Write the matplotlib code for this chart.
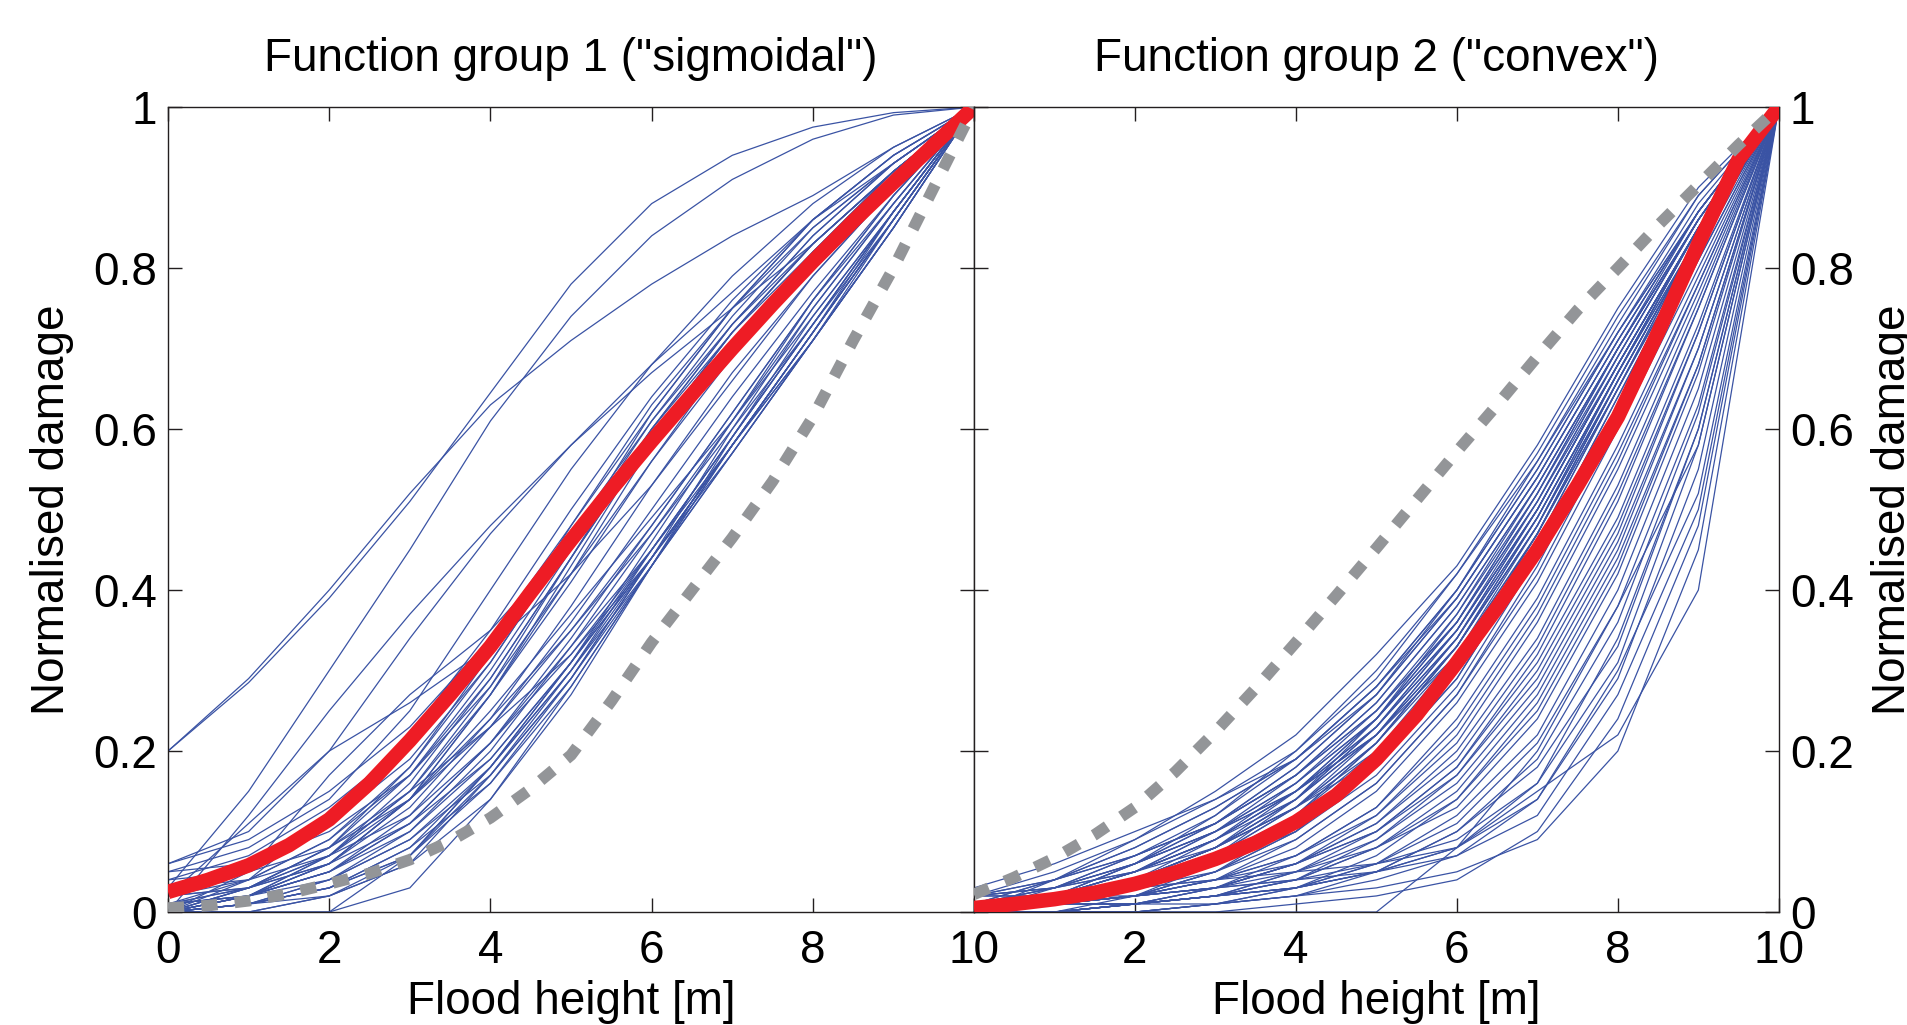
import numpy as np
import matplotlib
matplotlib.use("Agg")
import matplotlib.pyplot as plt

plt.rcParams['font.family'] = ['Liberation Sans', 'DejaVu Sans']

# flood height grids [m]
heights = [0, 1, 2, 3, 4, 5, 6, 7, 8, 9, 10]
heights_fine = [0, 0.5, 1, 1.5, 2, 2.5, 3, 3.5, 4, 4.5, 5,
                5.5, 6, 6.5, 7, 7.5, 8, 8.5, 9, 9.5, 10]

# group 1 ("sigmoidal"): individual damage functions
sigmoidal_curves = [
    [0.20, 0.285, 0.39, 0.51, 0.645, 0.78, 0.88, 0.94, 0.975, 0.993, 1.0],
    [0.20, 0.29, 0.40, 0.52, 0.63, 0.71, 0.78, 0.84, 0.89, 0.95, 1.0],
    [0.03, 0.15, 0.30, 0.45, 0.61, 0.74, 0.84, 0.91, 0.96, 0.99, 1.0],
    [0.00, 0.12, 0.25, 0.37, 0.48, 0.58, 0.68, 0.77, 0.86, 0.93, 1.0],
    [0.06, 0.10, 0.20, 0.34, 0.47, 0.58, 0.67, 0.75, 0.83, 0.92, 1.0],
    [0.05, 0.08, 0.14, 0.25, 0.40, 0.55, 0.68, 0.79, 0.88, 0.95, 1.0],
    [0.00, 0.05, 0.17, 0.27, 0.35, 0.46, 0.60, 0.73, 0.84, 0.93, 1.0],
    [0.06, 0.09, 0.15, 0.23, 0.34, 0.48, 0.62, 0.75, 0.86, 0.94, 1.0],
    [0.02, 0.11, 0.20, 0.26, 0.33, 0.42, 0.53, 0.66, 0.79, 0.90, 1.0],
    [0.04, 0.07, 0.13, 0.21, 0.33, 0.47, 0.61, 0.73, 0.84, 0.93, 1.0],
    [0.05, 0.06, 0.10, 0.17, 0.28, 0.42, 0.56, 0.70, 0.82, 0.92, 1.0],
    [0.01, 0.04, 0.09, 0.17, 0.29, 0.44, 0.59, 0.72, 0.83, 0.92, 1.0],
    [0.00, 0.03, 0.08, 0.17, 0.30, 0.45, 0.60, 0.72, 0.83, 0.92, 1.0],
    [0.01, 0.03, 0.07, 0.15, 0.28, 0.44, 0.60, 0.73, 0.83, 0.92, 1.0],
    [0.00, 0.02, 0.06, 0.14, 0.27, 0.43, 0.59, 0.72, 0.83, 0.92, 1.0],
    [0.02, 0.04, 0.09, 0.18, 0.31, 0.46, 0.61, 0.74, 0.85, 0.93, 1.0],
    [0.00, 0.03, 0.08, 0.18, 0.32, 0.48, 0.63, 0.75, 0.85, 0.93, 1.0],
    [0.03, 0.06, 0.11, 0.19, 0.31, 0.46, 0.62, 0.75, 0.86, 0.94, 1.0],
    [0.00, 0.04, 0.12, 0.22, 0.35, 0.50, 0.64, 0.76, 0.86, 0.94, 1.0],
    [0.01, 0.02, 0.06, 0.14, 0.27, 0.42, 0.58, 0.71, 0.82, 0.91, 1.0],
    [0.00, 0.02, 0.07, 0.16, 0.29, 0.44, 0.59, 0.72, 0.82, 0.92, 1.0],
    [0.00, 0.02, 0.07, 0.15, 0.27, 0.41, 0.56, 0.69, 0.80, 0.90, 1.0],
    [0.02, 0.03, 0.06, 0.13, 0.24, 0.38, 0.53, 0.67, 0.79, 0.90, 1.0],
    [0.00, 0.02, 0.05, 0.12, 0.23, 0.36, 0.50, 0.64, 0.77, 0.89, 1.0],
    [0.01, 0.02, 0.05, 0.11, 0.21, 0.34, 0.48, 0.62, 0.76, 0.88, 1.0],
    [0.00, 0.01, 0.04, 0.10, 0.20, 0.33, 0.47, 0.61, 0.75, 0.88, 1.0],
    [0.03, 0.04, 0.07, 0.12, 0.21, 0.32, 0.45, 0.59, 0.73, 0.87, 1.0],
    [0.00, 0.01, 0.03, 0.08, 0.18, 0.31, 0.46, 0.61, 0.76, 0.89, 1.0],
    [0.00, 0.02, 0.06, 0.14, 0.25, 0.37, 0.49, 0.61, 0.74, 0.87, 1.0],
    [0.02, 0.03, 0.06, 0.11, 0.19, 0.31, 0.44, 0.58, 0.72, 0.86, 1.0],
    [0.00, 0.01, 0.04, 0.09, 0.17, 0.29, 0.43, 0.58, 0.72, 0.87, 1.0],
    [0.01, 0.02, 0.05, 0.10, 0.19, 0.31, 0.44, 0.58, 0.71, 0.85, 1.0],
    [0.00, 0.02, 0.05, 0.11, 0.21, 0.33, 0.45, 0.58, 0.71, 0.85, 1.0],
    [0.00, 0.00, 0.02, 0.07, 0.16, 0.29, 0.44, 0.60, 0.75, 0.88, 1.0],
    [0.01, 0.03, 0.07, 0.14, 0.24, 0.35, 0.47, 0.60, 0.73, 0.87, 1.0],
    [0.00, 0.01, 0.03, 0.08, 0.16, 0.28, 0.43, 0.58, 0.72, 0.86, 1.0],
    [0.04, 0.05, 0.08, 0.14, 0.23, 0.35, 0.48, 0.62, 0.76, 0.89, 1.0],
    [0.00, 0.01, 0.02, 0.06, 0.14, 0.27, 0.43, 0.59, 0.74, 0.87, 1.0],
    [0.00, 0.03, 0.08, 0.15, 0.23, 0.32, 0.44, 0.57, 0.71, 0.85, 1.0],
    [0.00, 0.00, 0.00, 0.03, 0.14, 0.28, 0.43, 0.57, 0.71, 0.86, 1.0],
    [0.00, 0.00, 0.00, 0.07, 0.18, 0.30, 0.44, 0.58, 0.72, 0.86, 1.0],
    [0.00, 0.01, 0.03, 0.07, 0.18, 0.31, 0.45, 0.59, 0.73, 0.87, 1.0],
    [0.00, 0.01, 0.03, 0.07, 0.17, 0.29, 0.44, 0.58, 0.72, 0.86, 1.0],
    [0.01, 0.02, 0.04, 0.09, 0.18, 0.30, 0.43, 0.57, 0.71, 0.85, 1.0],
    [0.00, 0.00, 0.02, 0.06, 0.17, 0.30, 0.45, 0.59, 0.73, 0.86, 1.0],
]
sigmoidal_mean = [0.025, 0.04, 0.058, 0.083, 0.115, 0.16, 0.213, 0.27, 0.33, 0.397, 0.462,
                  0.525, 0.585, 0.643, 0.70, 0.755, 0.808, 0.858, 0.906, 0.953, 1.0]
sigmoidal_ref = [0.005, 0.008, 0.014, 0.023, 0.035, 0.048, 0.065, 0.088, 0.117, 0.153, 0.195,
                 0.262, 0.335, 0.40, 0.465, 0.535, 0.615, 0.71, 0.80, 0.90, 1.0]

# group 2 ("convex")
convex_curves = [
    [0.02, 0.05, 0.09, 0.15, 0.22, 0.32, 0.43, 0.58, 0.75, 0.90, 1.0],
    [0.00, 0.04, 0.09, 0.14, 0.20, 0.29, 0.42, 0.57, 0.74, 0.89, 1.0],
    [0.03, 0.06, 0.10, 0.14, 0.19, 0.27, 0.40, 0.56, 0.73, 0.89, 1.0],
    [0.01, 0.04, 0.08, 0.13, 0.19, 0.28, 0.40, 0.55, 0.72, 0.87, 1.0],
    [0.00, 0.02, 0.06, 0.11, 0.18, 0.27, 0.39, 0.54, 0.71, 0.87, 1.0],
    [0.01, 0.03, 0.07, 0.12, 0.20, 0.30, 0.42, 0.56, 0.72, 0.88, 1.0],
    [0.00, 0.02, 0.06, 0.12, 0.19, 0.28, 0.39, 0.54, 0.71, 0.87, 1.0],
    [0.02, 0.04, 0.07, 0.11, 0.17, 0.26, 0.38, 0.53, 0.70, 0.87, 1.0],
    [0.00, 0.03, 0.07, 0.11, 0.17, 0.25, 0.36, 0.51, 0.69, 0.86, 1.0],
    [0.01, 0.02, 0.05, 0.10, 0.16, 0.25, 0.37, 0.52, 0.70, 0.86, 1.0],
    [0.00, 0.01, 0.04, 0.09, 0.16, 0.24, 0.35, 0.50, 0.68, 0.85, 1.0],
    [0.02, 0.03, 0.06, 0.10, 0.15, 0.23, 0.34, 0.49, 0.67, 0.85, 1.0],
    [0.00, 0.02, 0.05, 0.09, 0.14, 0.22, 0.34, 0.50, 0.68, 0.85, 1.0],
    [0.01, 0.02, 0.04, 0.08, 0.14, 0.22, 0.33, 0.48, 0.66, 0.84, 1.0],
    [0.00, 0.01, 0.03, 0.07, 0.13, 0.21, 0.33, 0.48, 0.67, 0.85, 1.0],
    [0.00, 0.02, 0.04, 0.08, 0.13, 0.20, 0.31, 0.47, 0.66, 0.84, 1.0],
    [0.01, 0.01, 0.03, 0.07, 0.12, 0.20, 0.32, 0.47, 0.65, 0.83, 1.0],
    [0.00, 0.01, 0.03, 0.06, 0.12, 0.21, 0.33, 0.49, 0.67, 0.84, 1.0],
    [0.02, 0.03, 0.05, 0.08, 0.13, 0.19, 0.30, 0.46, 0.65, 0.84, 1.0],
    [0.00, 0.01, 0.02, 0.05, 0.11, 0.19, 0.31, 0.47, 0.66, 0.84, 1.0],
    [0.01, 0.02, 0.04, 0.07, 0.11, 0.18, 0.29, 0.45, 0.64, 0.83, 1.0],
    [0.00, 0.01, 0.03, 0.06, 0.10, 0.18, 0.30, 0.46, 0.65, 0.83, 1.0],
    [0.00, 0.02, 0.05, 0.10, 0.17, 0.26, 0.38, 0.53, 0.70, 0.86, 1.0],
    [0.01, 0.03, 0.06, 0.10, 0.16, 0.24, 0.35, 0.50, 0.68, 0.85, 1.0],
    [0.00, 0.01, 0.04, 0.08, 0.14, 0.23, 0.35, 0.51, 0.69, 0.86, 1.0],
    [0.02, 0.04, 0.07, 0.11, 0.17, 0.25, 0.36, 0.51, 0.68, 0.85, 1.0],
    [0.00, 0.02, 0.04, 0.08, 0.15, 0.24, 0.36, 0.52, 0.70, 0.86, 1.0],
    [0.01, 0.02, 0.05, 0.09, 0.15, 0.23, 0.34, 0.49, 0.67, 0.85, 1.0],
    [0.00, 0.01, 0.03, 0.07, 0.14, 0.23, 0.35, 0.50, 0.68, 0.85, 1.0],
    [0.00, 0.02, 0.05, 0.09, 0.15, 0.22, 0.33, 0.48, 0.66, 0.84, 1.0],
    [0.01, 0.03, 0.06, 0.10, 0.15, 0.22, 0.32, 0.47, 0.65, 0.84, 1.0],
    [0.00, 0.01, 0.03, 0.07, 0.13, 0.22, 0.34, 0.50, 0.68, 0.85, 1.0],
    [0.00, 0.02, 0.04, 0.08, 0.14, 0.24, 0.37, 0.53, 0.70, 0.86, 1.0],
    [0.01, 0.02, 0.04, 0.08, 0.13, 0.21, 0.32, 0.48, 0.67, 0.85, 1.0],
    [0.00, 0.01, 0.02, 0.06, 0.12, 0.21, 0.33, 0.49, 0.67, 0.84, 1.0],
    [0.02, 0.03, 0.05, 0.09, 0.15, 0.24, 0.36, 0.52, 0.69, 0.86, 1.0],
    [0.00, 0.02, 0.06, 0.11, 0.18, 0.27, 0.39, 0.54, 0.71, 0.87, 1.0],
    [0.01, 0.04, 0.08, 0.13, 0.19, 0.28, 0.40, 0.55, 0.72, 0.87, 1.0],
    [0.00, 0.01, 0.03, 0.06, 0.11, 0.19, 0.31, 0.47, 0.66, 0.84, 1.0],
    [0.00, 0.01, 0.02, 0.05, 0.10, 0.18, 0.29, 0.45, 0.64, 0.83, 1.0],
    [0.00, 0.01, 0.02, 0.05, 0.10, 0.17, 0.28, 0.44, 0.63, 0.82, 1.0],
    [0.01, 0.01, 0.03, 0.05, 0.09, 0.16, 0.27, 0.43, 0.62, 0.81, 1.0],
    [0.00, 0.00, 0.02, 0.04, 0.09, 0.16, 0.27, 0.42, 0.61, 0.81, 1.0],
    [0.00, 0.01, 0.02, 0.04, 0.08, 0.15, 0.26, 0.41, 0.60, 0.80, 1.0],
    [0.00, 0.00, 0.01, 0.03, 0.07, 0.13, 0.23, 0.38, 0.57, 0.78, 1.0],
    [0.00, 0.00, 0.01, 0.03, 0.06, 0.12, 0.22, 0.37, 0.56, 0.78, 1.0],
    [0.00, 0.01, 0.02, 0.04, 0.07, 0.13, 0.24, 0.39, 0.58, 0.79, 1.0],
    [0.01, 0.01, 0.02, 0.04, 0.07, 0.12, 0.21, 0.36, 0.55, 0.77, 1.0],
    [0.00, 0.00, 0.01, 0.03, 0.06, 0.11, 0.20, 0.34, 0.53, 0.76, 1.0],
    [0.01, 0.01, 0.02, 0.03, 0.06, 0.11, 0.19, 0.33, 0.52, 0.75, 1.0],
    [0.00, 0.01, 0.02, 0.03, 0.06, 0.10, 0.18, 0.32, 0.51, 0.75, 1.0],
    [0.00, 0.00, 0.01, 0.02, 0.05, 0.10, 0.18, 0.31, 0.49, 0.73, 1.0],
    [0.00, 0.00, 0.01, 0.02, 0.05, 0.09, 0.17, 0.30, 0.48, 0.72, 1.0],
    [0.02, 0.02, 0.03, 0.04, 0.06, 0.10, 0.17, 0.29, 0.47, 0.72, 1.0],
    [0.00, 0.00, 0.01, 0.02, 0.04, 0.09, 0.16, 0.28, 0.46, 0.70, 1.0],
    [0.00, 0.01, 0.01, 0.02, 0.04, 0.08, 0.15, 0.27, 0.45, 0.70, 1.0],
    [0.00, 0.00, 0.00, 0.01, 0.03, 0.07, 0.14, 0.26, 0.44, 0.68, 1.0],
    [0.00, 0.00, 0.01, 0.02, 0.04, 0.08, 0.14, 0.25, 0.43, 0.68, 1.0],
    [0.01, 0.01, 0.02, 0.03, 0.05, 0.08, 0.13, 0.24, 0.42, 0.67, 1.0],
    [0.00, 0.00, 0.01, 0.02, 0.03, 0.06, 0.12, 0.22, 0.40, 0.65, 1.0],
    [0.00, 0.00, 0.00, 0.01, 0.03, 0.06, 0.11, 0.21, 0.38, 0.63, 1.0],
    [0.00, 0.01, 0.01, 0.02, 0.03, 0.05, 0.10, 0.19, 0.36, 0.62, 1.0],
    [0.00, 0.00, 0.00, 0.01, 0.02, 0.05, 0.10, 0.18, 0.33, 0.60, 1.0],
    [0.01, 0.01, 0.01, 0.02, 0.03, 0.05, 0.08, 0.16, 0.31, 0.58, 1.0],
    [0.00, 0.00, 0.00, 0.01, 0.02, 0.04, 0.07, 0.14, 0.29, 0.55, 1.0],
    [0.00, 0.00, 0.00, 0.00, 0.00, 0.00, 0.08, 0.15, 0.22, 0.40, 1.0],
    [0.00, 0.01, 0.01, 0.02, 0.03, 0.05, 0.08, 0.20, 0.38, 0.58, 1.0],
    [0.02, 0.02, 0.03, 0.04, 0.05, 0.06, 0.08, 0.14, 0.30, 0.52, 1.0],
    [0.00, 0.00, 0.01, 0.01, 0.02, 0.03, 0.05, 0.09, 0.20, 0.45, 1.0],
    [0.00, 0.00, 0.00, 0.00, 0.01, 0.02, 0.04, 0.10, 0.24, 0.48, 1.0],
    [0.00, 0.01, 0.02, 0.03, 0.04, 0.05, 0.07, 0.12, 0.27, 0.50, 1.0],
    [0.01, 0.02, 0.02, 0.03, 0.04, 0.06, 0.09, 0.16, 0.34, 0.60, 1.0],
]
convex_mean = [0.005, 0.01, 0.016, 0.024, 0.035, 0.049, 0.066, 0.086, 0.112, 0.145, 0.19,
               0.245, 0.31, 0.378, 0.45, 0.53, 0.615, 0.72, 0.83, 0.935, 1.0]
convex_ref = [0.022, 0.043, 0.067, 0.096, 0.13, 0.174, 0.224, 0.278, 0.335, 0.393, 0.452,
              0.512, 0.572, 0.63, 0.69, 0.748, 0.80, 0.853, 0.903, 0.953, 1.0]

titles = ['Function group 1 ("sigmoidal")', 'Function group 2 ("convex")']
xtick_vals = [0, 2, 4, 6, 8, 10]
ytick_vals = [0, 0.2, 0.4, 0.6, 0.8, 1]
ytick_labels = ['0', '0.2', '0.4', '0.6', '0.8', '1']

BLUE = '#3A53A4'
RED = '#EE1C25'
GRAY = '#939598'
FS = 33

fig = plt.figure(figsize=(19.07, 10.25), dpi=100)
ax1 = fig.add_axes([0.0881, 0.1102, 0.4227, 0.7854])
ax2 = fig.add_axes([0.5107, 0.1102, 0.4221, 0.7854])

panels = [(ax1, sigmoidal_curves, sigmoidal_mean, sigmoidal_ref),
          (ax2, convex_curves, convex_mean, convex_ref)]

for i, (ax, curves, mean, ref) in enumerate(panels):
    for c in curves:
        ax.plot(heights, c, color=BLUE, lw=0.9, zorder=2)
    ax.plot(heights_fine, mean, color=RED, lw=10.5, solid_capstyle='butt',
            solid_joinstyle='round', zorder=3)
    ax.plot(heights_fine, ref, color=GRAY, lw=8.3, linestyle=(0, (1.4, 1.5)),
            dash_capstyle='butt', zorder=4)
    ax.set_xlim(0, 10)
    ax.set_ylim(0, 1)
    ax.set_xticks(xtick_vals)
    ax.set_yticks(ytick_vals)
    ax.set_yticklabels(ytick_labels)
    ax.tick_params(direction='in', top=True, right=True, length=10, width=1,
                   labelsize=FS, color='#231F20')
    ax.tick_params(axis='x', pad=12)
    for sp in ax.spines.values():
        sp.set_linewidth(1.0)
        sp.set_color('#231F20')
    ax.set_title(titles[i], fontsize=FS, pad=26)
    ax.set_xlabel('Flood height [m]', fontsize=FS, labelpad=5)

ax1.set_ylabel('Normalised damage', fontsize=FS, labelpad=14)
ax1.tick_params(axis='y', pad=8)

ax2.set_xticklabels([''] + [str(v) for v in xtick_vals[1:]])
ax2.yaxis.tick_right()
ax2.yaxis.set_label_position('right')
ax2.tick_params(axis='y', left=True, right=True, labelleft=False, labelright=True, pad=8)
ax2.set_ylabel('Normalised damage', fontsize=FS, labelpad=12, rotation=90)

fig.savefig('out.png', dpi=100)
